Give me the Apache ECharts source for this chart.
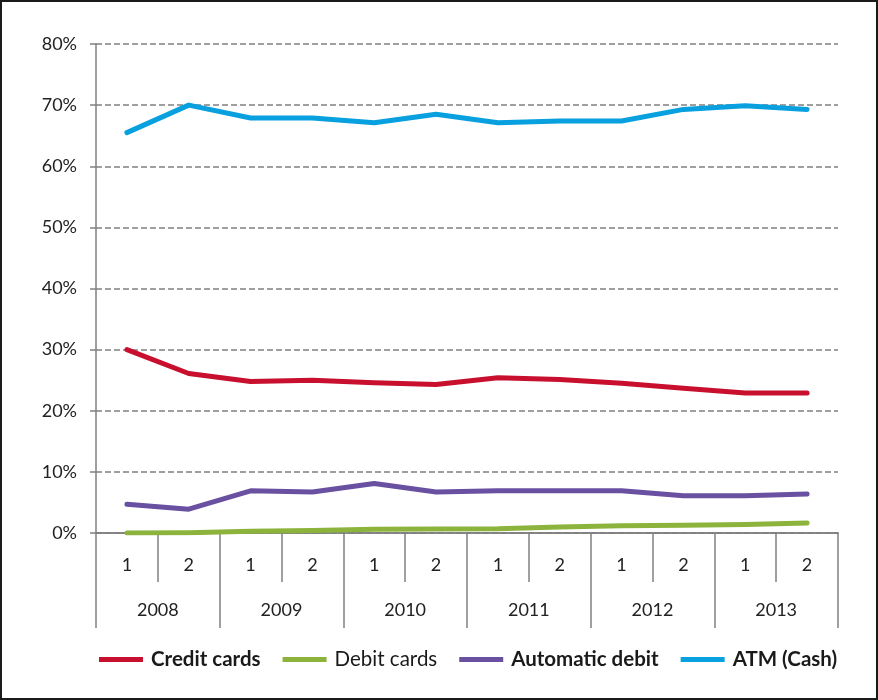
<!DOCTYPE html>
<html>
<head>
<meta charset="utf-8">
<script src="https://cdn.jsdelivr.net/npm/echarts@6/dist/echarts.min.js"></script>
<style>
  html, body { margin: 0; padding: 0; background: #fff; }
  #chart { width: 878px; height: 700px; box-sizing: border-box; border: 2px solid #1a1a1a; }
</style>
</head>
<body>
<div id="chart"></div>
<script>
// Half-year periods and the years they belong to
const halves = ['1', '2', '1', '2', '1', '2', '1', '2', '1', '2', '1', '2'];
const years = ['2008', '2009', '2010', '2011', '2012', '2013'];

// Share of payments by method, in percent
const creditCards = [30.0, 26.1, 24.8, 25.0, 24.6, 24.3, 25.4, 25.1, 24.5, 23.7, 22.9, 22.9];
const debitCards = [0.0, 0.05, 0.3, 0.4, 0.6, 0.65, 0.7, 1.0, 1.2, 1.25, 1.4, 1.65];
const automaticDebit = [4.7, 3.9, 6.9, 6.7, 8.1, 6.7, 6.9, 6.9, 6.9, 6.1, 6.1, 6.4];
const atmCash = [65.5, 70.0, 67.9, 67.9, 67.1, 68.5, 67.1, 67.4, 67.4, 69.3, 69.9, 69.3];

const yTicks = { min: 0, max: 80, interval: 10 };

const chart = echarts.init(document.getElementById('chart'));
const font = 'Lato, "Open Sans", sans-serif';
const gray = '#808080';

function line(name, data, color) {
  return {
    name, type: 'line', data, xAxisIndex: 0,
    symbol: 'none', smooth: false,
    lineStyle: { width: 5, color, cap: 'round', join: 'round' },
    itemStyle: { color }
  };
}

chart.setOption({
  animation: false,
  grid: { left: 94, right: 38, top: 42, bottom: 165 },
  legend: {
    bottom: 23, left: 92,
    icon: 'rect', itemWidth: 44, itemHeight: 5, itemGap: 22,
    textStyle: { fontFamily: font, fontSize: 20.5, color: '#1a1a1a', padding: [0, 0, 0, 3] },
    data: [
      { name: 'Credit cards', textStyle: { fontWeight: 'bold' } },
      { name: 'Debit cards', textStyle: { fontWeight: 'normal' } },
      { name: 'Automatic debit', textStyle: { fontWeight: 'bold' } },
      { name: 'ATM (Cash)', textStyle: { fontWeight: 'bold' } }
    ]
  },
  xAxis: [
    {
      type: 'category', data: halves, boundaryGap: true, position: 'bottom',
      axisLine: { lineStyle: { color: gray, width: 1.5 } },
      axisTick: { show: true, interval: 0, length: 49, lineStyle: { color: gray, width: 1.5 } },
      axisLabel: { interval: 0, margin: 23, fontFamily: font, fontSize: 18, color: '#222' }
    },
    {
      type: 'category', data: years, boundaryGap: true, position: 'bottom',
      axisLine: { lineStyle: { color: gray, width: 1.5 } },
      axisTick: { show: true, interval: 0, length: 95, lineStyle: { color: gray, width: 1.5 } },
      axisLabel: { interval: 0, margin: 68, fontFamily: font, fontSize: 18, color: '#222' }
    }
  ],
  yAxis: {
    type: 'value', min: yTicks.min, max: yTicks.max, interval: yTicks.interval,
    axisLine: { show: true, lineStyle: { color: gray, width: 1.5 } },
    axisTick: { show: true, length: 6, lineStyle: { color: gray, width: 1.5 } },
    axisLabel: { formatter: '{value}%', margin: 19, fontFamily: font, fontSize: 18, color: '#222' },
    splitLine: { lineStyle: { color: gray, width: 1.5, type: [6, 3] } }
  },
  series: [
    line('Credit cards', creditCards, '#C8102E'),
    line('Debit cards', debitCards, '#8CB43C'),
    line('Automatic debit', automaticDebit, '#6950A0'),
    line('ATM (Cash)', atmCash, '#08A0DE')
  ]
});
</script>
</body>
</html>
